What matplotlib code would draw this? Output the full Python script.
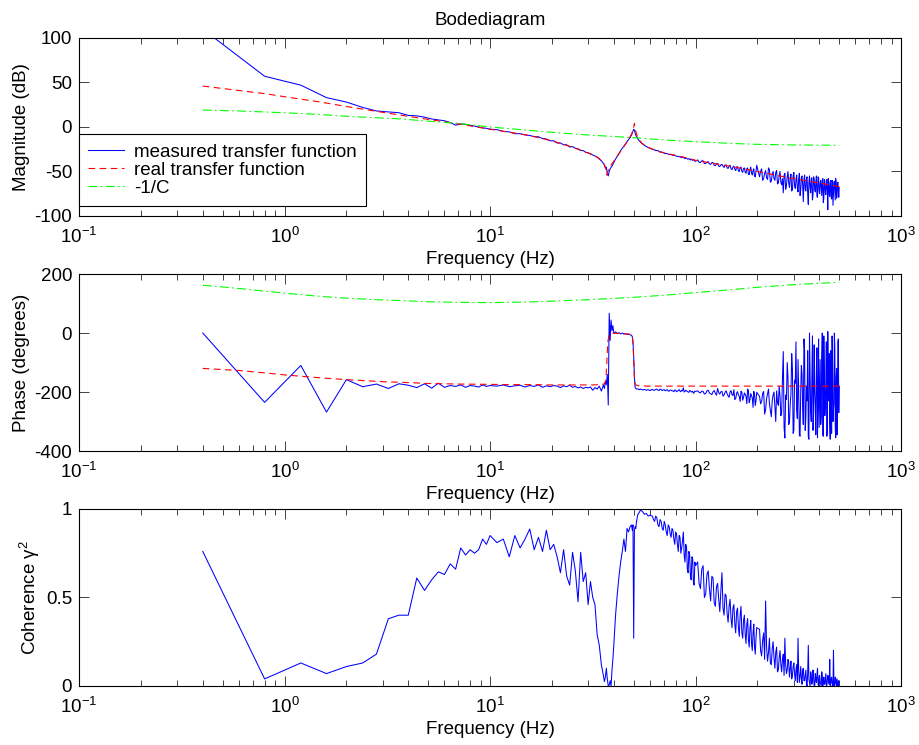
import matplotlib.pyplot as plt
import numpy as np

plt.rcParams['font.family'] = ['Liberation Sans', 'DejaVu Sans']
plt.rcParams['font.size'] = 13.5
plt.rcParams['axes.unicode_minus'] = False
plt.rcParams['mathtext.fontset'] = 'custom'
plt.rcParams['mathtext.rm'] = 'Liberation Sans'
plt.rcParams['mathtext.it'] = 'Liberation Sans:italic'
plt.rcParams['mathtext.bf'] = 'Liberation Sans:bold'
plt.rcParams['mathtext.default'] = 'regular'

# ---- measured transfer function: frequency points (Hz) ----
f_lo = [0.4, 0.8, 1.2, 1.6, 2.0, 2.4, 2.8, 3.2, 3.6, 4.0, 4.4, 4.8, 5.2, 5.6, 6.0,
        6.4, 6.8, 7.2, 7.6, 8.0, 8.4, 8.8, 9.2, 9.6, 10.0]
f_mid = [10.8, 11.6, 12.4, 13.2, 14.0, 14.8, 15.6, 16.4, 17.2, 18.0, 18.8, 19.6, 20.4,
         21.2, 22.0, 22.8, 23.6, 24.4, 25.2, 26.0, 26.8, 27.6, 28.4, 29.2, 30.0]
f_res = [30.8, 31.6, 32.4, 33.2, 34.0, 34.8, 35.6, 36.0, 36.4, 36.8, 37.2, 37.6, 38.0,
         38.4, 38.8, 39.2, 39.6, 40.0, 40.8, 41.6, 42.4, 43.2, 44.0, 44.8, 45.6, 46.4,
         47.2, 48.0, 48.8, 49.2, 49.6, 50.0, 50.4, 50.8, 51.2, 51.6, 52.4, 53.2, 54.0,
         55.2, 56.4, 57.6, 58.8, 60.0]
f_hi1 = [61.6, 63.2, 64.8, 66.4, 68.0, 69.6, 71.2, 72.8, 74.4, 76.0, 77.6, 79.2, 80.8,
         82.4, 84.0, 85.6, 87.2, 88.8, 90.4, 92.0, 93.6, 95.2, 96.8, 98.4, 100.0]
f_hi1b = [62.4, 64.0, 65.6, 67.2, 68.8, 70.4, 72.0, 73.6, 75.2, 76.8, 78.4, 80.0, 81.6,
          83.2, 84.8, 86.4, 88.0, 89.6, 91.2, 92.8, 94.4, 96.0, 97.6, 99.2]
f_hi2 = [102.4, 105.6, 108.8, 112.0, 115.2, 118.4, 121.6, 124.8, 128.0, 131.2, 134.4,
         137.6, 140.8, 144.0, 147.2, 150.4, 153.6, 156.8, 160.0, 163.2, 166.4, 169.6,
         172.8, 176.0, 179.2, 182.4, 185.6, 188.8, 192.0, 195.2, 198.4]
f_hi2b = [104.0, 107.2, 110.4, 113.6, 116.8, 120.0, 123.2, 126.4, 129.6, 132.8, 136.0,
          139.2, 142.4, 145.6, 148.8, 152.0, 155.2, 158.4, 161.6, 164.8, 168.0, 171.2,
          174.4, 177.6, 180.8, 184.0, 187.2, 190.4, 193.6, 196.8]
f_hi3 = [204.8, 209.6, 214.4, 219.2, 224.0, 228.8, 233.6, 238.4, 243.2, 248.0, 252.8,
         257.6, 262.4, 267.2, 272.0, 276.8, 281.6, 286.4, 291.2, 296.0, 300.8, 305.6,
         310.4, 315.2, 320.0, 324.8, 329.6, 334.4, 339.2, 344.0, 348.8, 353.6, 358.4,
         363.2, 368.0, 372.8, 377.6, 382.4, 387.2, 392.0, 396.8, 401.6, 406.4, 411.2,
         416.0, 420.8, 425.6, 430.4, 435.2, 440.0, 444.8, 449.6, 454.4, 459.2, 464.0,
         468.8, 473.6, 478.4, 483.2, 488.0, 492.8, 497.6, 500.0]
f_hi3b = [207.2, 212.0, 216.8, 221.6, 226.4, 231.2, 236.0, 240.8, 245.6, 250.4, 255.2,
          260.0, 264.8, 269.6, 274.4, 279.2, 284.0, 288.8, 293.6, 298.4, 303.2, 308.0,
          312.8, 317.6, 322.4, 327.2, 332.0, 336.8, 341.6, 346.4, 351.2, 356.0, 360.8,
          365.6, 370.4, 375.2, 380.0, 384.8, 389.6, 394.4, 399.2, 404.0, 408.8, 413.6,
          418.4, 423.2, 428.0, 432.8, 437.6, 442.4, 447.2, 452.0, 456.8, 461.6, 466.4,
          471.2, 476.0, 480.8, 485.6, 490.4, 495.2]

# magnitude (dB)
mag_lo = [110, 57, 47, 33, 28, 22, 18, 17, 16, 13, 12.5, 11, 9, 8, 7, 5, 2, 3.5, 3, 2,
          1, 0, -1, -1.5, -2.5]
mag_mid = [-3, -5, -5.5, -7.5, -7.5, -9, -9.5, -11, -11, -13, -13.5, -15.5, -15.5, -18,
           -18, -20, -20, -22.5, -22, -24, -24.5, -26.5, -26.5, -28.5, -29]
mag_res = [-30, -31.5, -32.5, -34, -36, -38, -41, -43, -46, -45, -53, -55, -50, -47,
           -45.5, -44, -42, -40, -36, -33, -30, -26.5, -24, -21.5, -19, -16.5, -14, -12,
           -9, -7, -4.5, -2.5, -3.5, -7, -9, -11, -13.5, -15.5, -17, -19, -20.5, -22,
           -23, -24]
mag_hi1 = [-25, -25.5, -26.5, -27.5, -28, -28.5, -30, -30, -31, -31, -32, -32, -33, -33,
           -33.5, -34.5, -34, -35.5, -35, -36, -36.5, -36, -37.5, -37, -38.5]
mag_hi1b = [-25.5, -26.5, -26.5, -28, -28.5, -29.5, -29.5, -30.5, -31, -31.5, -31.5,
            -32.5, -33, -33.5, -34, -33.5, -35, -35, -36, -35.5, -37, -37, -37, -38.5]
mag_hi2 = [-37, -40, -38, -41, -39, -42, -40, -43.5, -41, -44.5, -42, -45.5, -42.5,
           -46.5, -43, -48, -44, -49, -44.5, -50, -45, -51, -46, -52, -46, -53.5, -45,
           -54, -47, -56, -43]
mag_hi2b = [-39.5, -38, -41, -39.5, -41.5, -40, -43, -41, -44, -42.5, -44, -43, -46, -44,
            -47, -45, -47.5, -45, -49.5, -46, -50, -46.5, -51, -47, -53, -48, -52, -49,
            -55, -50]
mag_hi3 = [-56, -47, -58, -49, -59, -48, -61, -50, -60, -49, -63, -50, -65, -74, -52,
           -66, -50, -68, -53, -70, -51, -69, -54, -73, -52, -71, -55, -84, -54, -72,
           -56, -87, -55, -74, -57, -76, -58, -73, -55, -79, -57, -75, -60, -77, -58,
           -80, -61, -76, -59, -93, -62, -78, -60, -81, -63, -75, -61, -82, -64, -77,
           -62, -79, -68]
mag_hi3b = [-50, -60, -52, -57, -46, -62, -53, -58, -51, -64, -55, -62, -58, -54, -70,
            -56, -63, -57, -72, -55, -66, -60, -68, -58, -77, -57, -66, -60, -70, -58,
            -75, -62, -68, -59, -82, -56, -70, -62, -78, -56, -72, -63, -69, -60, -85,
            -59, -74, -64, -71, -58, -76, -63, -79, -60, -88, -62, -73, -58, -80, -63,
            -72]

# phase (degrees)
ph_lo = [0, -235, -110, -268, -158, -182, -173, -188, -172, -177, -185, -172, -187,
         -170, -184, -178, -181, -176, -184, -178, -180, -183, -176, -181, -178]
ph_mid = [-180, -176, -182, -179, -177, -183, -178, -181, -176, -184, -179, -182, -178,
          -180, -185, -179, -182, -177, -184, -181, -186, -183, -188, -184, -186]
ph_res = [-183, -194, -185, -190, -180, -197, -176, -188, -165, -175, -140, -244, 67,
          -25, 44, 8, 25, 0, 4, -2, 1, -3, 0, -4, -2, -5, -3, -6, -8, -12, -30, -80,
          -150, -185, -188, -190, -189, -192, -190, -193, -191, -194, -192, -195]
ph_hi1 = [-191, -194, -190, -195, -192, -193, -196, -192, -197, -194, -196, -193, -199,
          -195, -197, -194, -186, -198, -196, -200, -195, -199, -197, -202, -198]
ph_hi1b = [-194, -191, -194, -190, -195, -192, -194, -197, -193, -196, -199, -194, -197,
           -192, -199, -196, -200, -194, -198, -201, -196, -200, -204, -197]
ph_hi2 = [-196, -203, -198, -205, -194, -206, -199, -204, -188, -207, -198, -210, -196,
          -213, -200, -209, -192, -222, -199, -215, -197, -228, -203, -214, -190, -236,
          -205, -220, -198, -246, -201]
ph_hi2b = [-201, -197, -207, -196, -203, -209, -195, -211, -202, -199, -214, -201, -206,
           -218, -195, -212, -226, -204, -210, -232, -200, -218, -208, -240, -196, -225,
           -212, -252, -208, -230]
ph_hi3 = [-215, -232, -198, -260, -205, -240, -284, -210, -252, -196, -245, -215, -270,
          -63, -356, -225, -150, -300, -205, -120, -330, -170, -260, -90, -345, -200,
          -140, -310, -60, -290, -230, -350, 0, -270, -150, -330, -40, -250, -120, -355,
          -20, -200, -310, -80, -345, -10, -280, -160, -350, 5, -230, -300, -60, -340,
          -110, -260, 0, -320, -150, -345, -30, -270, -180]
ph_hi3b = [-240, -205, -275, -222, -190, -262, -230, -200, -300, -235, -180, -280, -150,
           -320, -210, -100, -310, -240, -70, -340, -160, -30, -290, -200, -350, -110,
           -250, -20, -330, -180, -60, -360, -140, -300, -10, -270, -190, -345, -50,
           -230, -320, -90, -280, 0, -350, -130, -240, -30, -335, -200, -70, -360, -170,
           -10, -300, -240, -50, -355, -120, -280, -20]

# coherence gamma^2
coh_lo = [0.76, 0.04, 0.13, 0.07, 0.11, 0.13, 0.18, 0.38, 0.40, 0.40, 0.61, 0.54, 0.60,
          0.645, 0.63, 0.69, 0.66, 0.78, 0.74, 0.77, 0.75, 0.77, 0.83, 0.80, 0.85]
coh_mid = [0.81, 0.83, 0.73, 0.85, 0.78, 0.83, 0.887, 0.77, 0.84, 0.76, 0.88, 0.77, 0.80,
           0.73, 0.64, 0.77, 0.62, 0.57, 0.755, 0.65, 0.476, 0.755, 0.59, 0.64, 0.46]
coh_res = [0.59, 0.50, 0.46, 0.29, 0.23, 0.12, 0.06, 0.025, 0.05, 0.10, 0.04, 0.0, 0.005,
           0.03, 0.0, 0.09, 0.15, 0.23, 0.40, 0.52, 0.62, 0.70, 0.76, 0.83, 0.76, 0.89,
           0.87, 0.90, 0.91, 0.88, 0.91, 0.27, 0.88, 0.90, 0.89, 0.93, 0.97, 0.98, 0.995,
           0.985, 0.97, 0.975, 0.96, 0.965]
coh_hi1 = [0.96, 0.93, 0.95, 0.90, 0.93, 0.88, 0.91, 0.85, 0.90, 0.84, 0.88, 0.80, 0.86,
           0.76, 0.84, 0.78, 0.87, 0.70, 0.78, 0.64, 0.74, 0.60, 0.72, 0.57, 0.68]
coh_hi1b = [0.94, 0.96, 0.91, 0.94, 0.89, 0.93, 0.87, 0.91, 0.86, 0.89, 0.83, 0.87, 0.80,
            0.85, 0.75, 0.82, 0.74, 0.80, 0.66, 0.76, 0.62, 0.73, 0.59, 0.70]
coh_hi2 = [0.70, 0.55, 0.68, 0.52, 0.65, 0.48, 0.61, 0.45, 0.58, 0.42, 0.64, 0.40, 0.51,
           0.36, 0.49, 0.33, 0.46, 0.30, 0.44, 0.28, 0.45, 0.27, 0.40, 0.24, 0.38, 0.22,
           0.37, 0.20, 0.35, 0.18, 0.33]
coh_hi2b = [0.58, 0.66, 0.50, 0.63, 0.55, 0.62, 0.47, 0.56, 0.49, 0.54, 0.44, 0.52, 0.41,
            0.45, 0.38, 0.44, 0.35, 0.42, 0.33, 0.40, 0.30, 0.37, 0.29, 0.35, 0.26, 0.33,
            0.24, 0.30, 0.22, 0.27]
coh_hi3 = [0.32, 0.17, 0.30, 0.48, 0.14, 0.27, 0.12, 0.25, 0.10, 0.22, 0.09, 0.20, 0.08,
           0.18, 0.27, 0.07, 0.15, 0.05, 0.14, 0.06, 0.13, 0.03, 0.12, 0.27, 0.02, 0.11,
           0.01, 0.10, 0.03, 0.09, 0.00, 0.23, 0.02, 0.08, 0.01, 0.09, 0.00, 0.07, 0.02,
           0.10, 0.00, 0.06, 0.01, 0.08, 0.00, 0.05, 0.01, 0.07, 0.00, 0.06, 0.02, 0.15,
           0.00, 0.05, 0.01, 0.20, 0.00, 0.05, 0.01, 0.04, 0.00, 0.03, 0.01]
coh_hi3b = [0.20, 0.26, 0.15, 0.22, 0.19, 0.13, 0.21, 0.16, 0.19, 0.08, 0.16, 0.12, 0.15,
            0.06, 0.12, 0.09, 0.13, 0.10, 0.04, 0.11, 0.07, 0.09, 0.02, 0.08, 0.06, 0.04,
            0.09, 0.03, 0.06, 0.01, 0.07, 0.04, 0.00, 0.06, 0.03, 0.05, 0.00, 0.04, 0.06,
            0.01, 0.05, 0.02, 0.00, 0.05, 0.03, 0.01, 0.04, 0.00, 0.03, 0.05, 0.01, 0.00,
            0.04, 0.02, 0.00, 0.03, 0.01, 0.04, 0.00, 0.02, 0.00]

# join the segments and put every bin in frequency order
freq = np.array(f_lo + f_mid + f_res + f_hi1 + f_hi1b + f_hi2 + f_hi2b + f_hi3 + f_hi3b)
order = np.argsort(freq, kind='stable')
freq = freq[order]
mag_meas = np.array(mag_lo + mag_mid + mag_res + mag_hi1 + mag_hi1b + mag_hi2 + mag_hi2b
                    + mag_hi3 + mag_hi3b)[order]
phase_meas = np.array(ph_lo + ph_mid + ph_res + ph_hi1 + ph_hi1b + ph_hi2 + ph_hi2b
                      + ph_hi3 + ph_hi3b)[order]
coh_meas = np.array(coh_lo + coh_mid + coh_res + coh_hi1 + coh_hi1b + coh_hi2 + coh_hi2b
                    + coh_hi3 + coh_hi3b)[order]

# ---- real (model) transfer function ----
f_real = [0.4, 0.6, 0.8, 1.0, 1.5, 2.0, 3.0, 4.0, 5.0, 7.0, 10, 12.4, 15.6, 20, 24.4,
          28.4, 31.6, 33.6, 35.2, 36.0, 36.6, 37.0, 37.4, 38.0, 39.0, 40.0, 42.0, 44.0,
          46.0, 47.6, 48.8, 49.2, 49.6, 50.0, 50.4, 50.8, 51.2, 52.0, 53.2, 55.0, 57.6,
          62, 67, 75, 84, 100, 130, 163, 200, 250, 300, 400, 500]
mag_real = [46, 41, 37.5, 34, 28, 23, 16.5, 12, 8.5, 3.5, -2.5, -5.8, -9.6, -15.6, -21.7,
            -27.1, -31.5, -34.5, -39, -42.5, -47, -54, -50, -46, -42, -38.5, -31, -24.5,
            -18, -12.5, -8, -6, -3, 0, 4, -1, -5, -10, -14.5, -18.5, -22, -25, -28,
            -30.5, -33, -37.5, -42, -46, -50, -54.5, -58, -63, -67]
phase_real = [-120, -127, -135, -142, -152, -158, -165, -168, -171, -173, -174, -175,
              -175, -176, -176, -176, -176, -175, -174, -172, -160, -100, -30, -5, -1, -1,
              -1, -2, -3, -4, -7, -12, -30, -90, -150, -170, -176, -178, -179, -179,
              -180, -180, -180, -180, -180, -180, -180, -180, -180, -180, -180, -180, -180]

# ---- -1/C ----
f_c_mag = [0.4, 0.6, 1.0, 1.5, 2.0, 3.7, 5.0, 7.0, 10, 15, 20, 30, 50, 70, 100, 150,
           200, 300, 500]
mag_c = [19, 18, 16, 14, 12, 9, 6.5, 4, 0, -3.5, -6, -9, -12, -14.5, -16.5, -18.5,
         -19.5, -20.2, -20.6]
f_c_ph = [0.4, 0.6, 0.8, 1.0, 1.5, 2.0, 3.0, 3.7, 5.0, 7.0, 10, 15, 20, 30, 50, 70, 100,
          150, 200, 300, 500]
phase_c = [162, 151, 142, 135, 124, 118, 112, 110, 106, 104, 103, 105, 108, 113, 121,
           128, 137, 147, 155, 164, 172]

BLUE, RED, GREEN = (0, 0, 1), (1, 0, 0), (0, 1, 0)
dash_red = (0, (6, 4))
dash_green = (0, (8, 3, 1.5, 3))

fig = plt.figure(figsize=(9.19, 7.45), dpi=100)
ax_mag = fig.add_axes([0.086, 0.7101, 0.8945, 0.2389])
ax_ph = fig.add_axes([0.086, 0.3946, 0.8945, 0.2376])
ax_coh = fig.add_axes([0.086, 0.0792, 0.8945, 0.2376])


def style(ax):
    ax.set_xscale('log')
    ax.set_xlim(0.1, 1000)
    ax.tick_params(which='both', direction='in', top=True, right=True,
                   width=0.6, color='#222222')
    ax.tick_params(which='major', length=7)
    ax.tick_params(which='minor', length=4)
    ax.tick_params(axis='x', which='major', pad=8)
    ax.tick_params(axis='y', pad=5)
    for s in ax.spines.values():
        s.set_linewidth(0.8)
    ax.set_xlabel('Frequency (Hz)', labelpad=3)


# magnitude
ax_mag.plot(freq, mag_meas, color=BLUE, lw=0.75, label='measured transfer function')
ax_mag.plot(f_real, mag_real, color=RED, lw=0.8, linestyle=dash_red,
            label='real transfer function')
ax_mag.plot(f_c_mag, mag_c, color=GREEN, lw=0.8, linestyle=dash_green, label='-1/C')
style(ax_mag)
ax_mag.set_ylim(-100, 100)
ax_mag.set_yticks([-100, -50, 0, 50, 100])
ax_mag.set_ylabel('Magnitude (dB)', labelpad=3)
ax_mag.set_title('Bodediagram', pad=9, fontsize=13.5)
leg = ax_mag.legend(loc='lower left', bbox_to_anchor=(0.0, 0.056), borderaxespad=0,
                    fancybox=False, framealpha=1, edgecolor='black', labelspacing=0.05,
                    handlelength=1.9, handletextpad=0.55, borderpad=0.5)
leg.get_frame().set_linewidth(0.8)

# phase
ax_ph.plot(freq, phase_meas, color=BLUE, lw=0.75)
ax_ph.plot(f_real, phase_real, color=RED, lw=0.8, linestyle=dash_red)
ax_ph.plot(f_c_ph, phase_c, color=GREEN, lw=0.8, linestyle=dash_green)
style(ax_ph)
ax_ph.set_ylim(-400, 200)
ax_ph.set_yticks([-400, -200, 0, 200])
ax_ph.set_ylabel('Phase (degrees)', labelpad=3)

# coherence
ax_coh.plot(freq, coh_meas, color=BLUE, lw=0.75)
style(ax_coh)
ax_coh.set_ylim(0, 1)
ax_coh.set_yticks([0, 0.5, 1])
ax_coh.set_yticklabels(['0', '0.5', '1'])
ax_coh.set_ylabel('Coherence γ$^{2}$', labelpad=3)

fig.savefig('out.png', dpi=100)
